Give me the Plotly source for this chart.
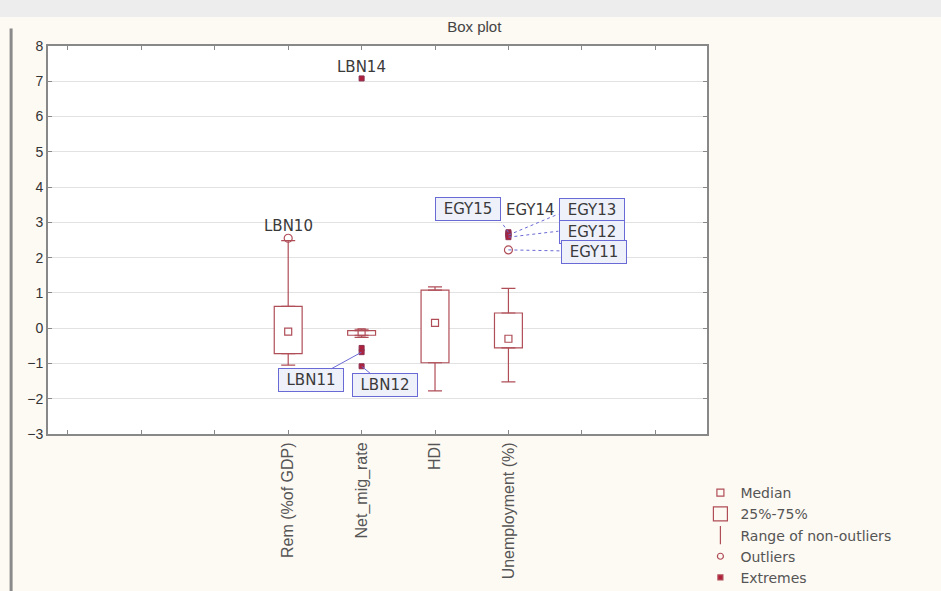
import plotly.graph_objects as go

# ---------------- data ----------------
categories = ["Rem (%of GDP)", "Net_mig_rate", "HDI", "Unemployment (%)"]
q1 = [-0.72, -0.20, -0.98, -0.56]
median = [-0.10, -0.12, 0.15, -0.30]
q3 = [0.62, -0.07, 1.08, 0.43]
whisker_lo = [-1.05, -0.26, -1.78, -1.52]
whisker_hi = [2.48, -0.03, 1.17, 1.13]

outlier_cat = ["Rem (%of GDP)", "Unemployment (%)"]
outlier_val = [2.55, 2.22]

extreme_cat = ["Net_mig_rate", "Net_mig_rate", "Net_mig_rate", "Net_mig_rate",
               "Unemployment (%)", "Unemployment (%)", "Unemployment (%)", "Unemployment (%)"]
extreme_val = [7.08, -0.56, -0.68, -1.08, 2.72, 2.68, 2.64, 2.58]

y_ticks = [-3, -2, -1, 0, 1, 2, 3, 4, 5, 6, 7, 8]
legend_labels = ["Median", "25%-75%", "Range of non-outliers", "Outliers", "Extremes"]

# ---------------- layout helpers ----------------
N_SLOTS = 9          # tick slots along x axis
FIRST_SLOT = 4       # slot of first variable
pos = {c: FIRST_SLOT + i for i, c in enumerate(categories)}
xs = [pos[c] for c in categories]

BOX = "#B04E58"
EXT = "#B0203A"
LBLUE = "#6A6AD6"
TXT = "#3A3A3A"

fig = go.Figure()

# boxes (25%-75%)
fig.add_trace(go.Bar(
    x=xs, base=q1, y=[b - a for a, b in zip(q1, q3)], width=0.38,
    marker=dict(color="white", line=dict(color=BOX, width=1.2)),
    showlegend=False, hoverinfo="skip"))

# upper whiskers
fig.add_trace(go.Scatter(
    x=xs, y=q3, mode="markers", marker=dict(size=1, color="rgba(0,0,0,0)"),
    error_y=dict(type="data", symmetric=False,
                 array=[h - t for h, t in zip(whisker_hi, q3)],
                 arrayminus=[0] * len(q3), color=BOX, thickness=1.2, width=7),
    showlegend=False, hoverinfo="skip"))
# lower whiskers
fig.add_trace(go.Scatter(
    x=xs, y=q1, mode="markers", marker=dict(size=1, color="rgba(0,0,0,0)"),
    error_y=dict(type="data", symmetric=False,
                 array=[0] * len(q1),
                 arrayminus=[b - l for b, l in zip(q1, whisker_lo)],
                 color=BOX, thickness=1.2, width=7),
    showlegend=False, hoverinfo="skip"))

# medians
fig.add_trace(go.Scatter(
    x=xs, y=median, mode="markers",
    marker=dict(symbol="square-open", size=7, color=BOX, line=dict(width=1.2)),
    showlegend=False))

# outliers
fig.add_trace(go.Scatter(
    x=[pos[c] for c in outlier_cat], y=outlier_val, mode="markers",
    marker=dict(symbol="circle-open", size=8, color=BOX, line=dict(width=1.2)),
    showlegend=False))

# extremes
fig.add_trace(go.Scatter(
    x=[pos[c] for c in extreme_cat], y=extreme_val, mode="markers",
    marker=dict(symbol="square", size=5, color=EXT, line=dict(color="#8A3050", width=1)),
    showlegend=False))

# legend-only entries
legend_specs = [
    dict(symbol="square-open", size=7),
    dict(symbol="square-open", size=14),
    dict(symbol="line-ns-open", size=13),
    dict(symbol="circle-open", size=6),
    dict(symbol="square", size=5),
]
for name, spec in zip(legend_labels, legend_specs):
    fig.add_trace(go.Scatter(
        x=[None], y=[None], mode="markers", name=name,
        marker=dict(symbol=spec["symbol"], size=spec["size"],
                    color=EXT if spec["symbol"] == "square" else BOX,
                    line=dict(color=BOX, width=1.2))))

# ---------------- point labels ----------------
lab_font = dict(family="DejaVu Sans", size=15, color=TXT)
boxed = dict(bordercolor=LBLUE, borderwidth=1, bgcolor="#EEF0FA", borderpad=2, width=60)

def label(cat, val, text, dx, dy, box=False, arrow=None):
    kw = dict(x=pos[cat], y=val, text=text, font=lab_font, xref="x", yref="y")
    if arrow is not None:
        kw.update(showarrow=True, arrowhead=0, arrowwidth=1, arrowcolor=LBLUE,
                  ax=arrow[0], ay=arrow[1])
    else:
        kw.update(showarrow=False, xshift=dx, yshift=dy)
    if box:
        kw.update(boxed)
    fig.add_annotation(**kw)

label("Net_mig_rate", 7.08, "LBN14", 0, 11)
label("Rem (%of GDP)", 2.55, "LBN10", 0, 12)
label("Net_mig_rate", -0.68, "LBN11", 0, 0, box=True, arrow=(-51, 28))
label("Net_mig_rate", -1.08, "LBN12", 0, 0, box=True, arrow=(23, 19))
label("Unemployment (%)", 2.72, "EGY15", -40, 23, box=True)
label("Unemployment (%)", 2.68, "EGY14", 22, 24)
label("Unemployment (%)", 2.64, "EGY13", 84, 25, box=True)
label("Unemployment (%)", 2.58, "EGY12", 84, 5, box=True)
label("Unemployment (%)", 2.22, "EGY11", 86, -2, box=True)

# dotted connectors for EGY labels (pixel offsets from the point)
def connector(cat, val, dx, dy):
    fig.add_shape(type="line", xref="x", yref="y",
                  xsizemode="pixel", xanchor=pos[cat], x0=0, x1=dx,
                  ysizemode="pixel", yanchor=val, y0=0, y1=dy,
                  line=dict(color=LBLUE, width=1, dash="dot"))

connector("Unemployment (%)", 2.64, 50, 21)
connector("Unemployment (%)", 2.58, 50, 6)
connector("Unemployment (%)", 2.22, 52, -1)
connector("Unemployment (%)", 2.72, -7, 10)

# decorative screenshot borders
fig.add_shape(type="rect", xref="paper", yref="paper", x0=-0.08, x1=1.36,
              y0=1.075, y1=1.125, fillcolor="#EDEDED", line=dict(width=0), layer="below")
fig.add_shape(type="line", xref="paper", yref="paper", x0=-0.056, x1=-0.056,
              y0=1.045, y1=-0.42, line=dict(color="#8A8A8A", width=3))

fig.update_layout(
    width=941, height=591,
    margin=dict(l=48, r=234, t=46, b=157, autoexpand=False),
    paper_bgcolor="#FDF9F3", plot_bgcolor="white",
    barmode="overlay",
    title=dict(text="Box plot", x=0.504, xref="container", y=0.954, yref="container",
               xanchor="center", yanchor="middle",
               font=dict(family="Liberation Sans", size=15, color="#444")),
    xaxis=dict(range=[0.728, N_SLOTS + 0.705], tickmode="array", automargin=False,
               tickvals=list(range(1, N_SLOTS + 1)),
               ticktext=["" if i not in xs else categories[xs.index(i)] for i in range(1, N_SLOTS + 1)],
               tickangle=-90, ticks="inside", ticklen=4, tickcolor="#888",
               showgrid=False, zeroline=False, showline=True, linecolor="#888",
               linewidth=2, mirror="ticks",
               tickfont=dict(family="Liberation Sans", size=16, color="#555")),
    yaxis=dict(range=[-3, 8], tickmode="array", tickvals=y_ticks, automargin=False,
               ticks="inside", ticklen=4, tickcolor="#888",
               showgrid=True, gridcolor="#E2E2E2", gridwidth=1, zeroline=False,
               showline=True, linecolor="#888", linewidth=2, mirror="ticks",
               tickfont=dict(family="Liberation Sans", size=14, color="#333")),
    legend=dict(x=0.99, y=-0.111, xanchor="left", yanchor="top",
                bgcolor="rgba(0,0,0,0)", tracegroupgap=0, itemsizing="trace",
                font=dict(family="DejaVu Sans", size=14, color="#555")),
    showlegend=True,
)

fig.write_html("out.html")
